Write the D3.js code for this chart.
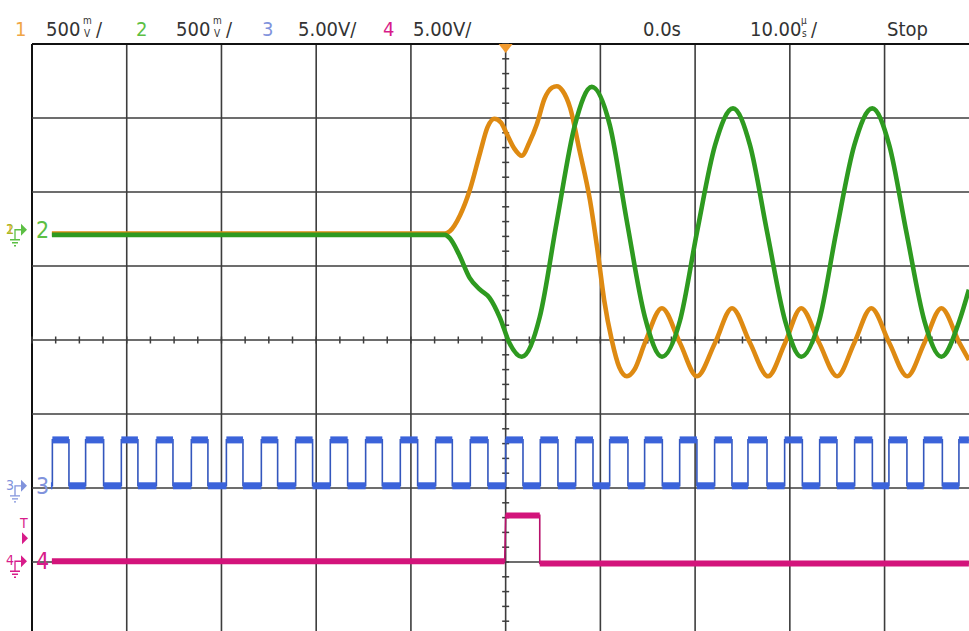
<!DOCTYPE html>
<html>
<head>
<meta charset="utf-8">
<script src="https://cdn.jsdelivr.net/npm/d3@7"></script>
<style>
  body { margin: 0; background: #fff; }
  svg { display: block; font-family: "Liberation Sans Narrow", "DejaVu Sans Condensed", "Arial Narrow", sans-serif; }
</style>
</head>
<body>
<div id="d3-container"></div>
<script>
/* CONSTANTS AND GLOBALS */
const width = 969,
  height = 631,
  grid = { left: 32, top: 44, divX: 94.73, divY: 74, nx: 10, ny: 8 };

/* DATA */
// channel settings read off the header
const channelNames = ["1", "2", "3", "4"];
const channelScales = ["500", "500", "5.00", "5.00"];
const channelUnits = ["mV", "mV", "V", "V"];
const timeOffset = "0.0s";
const timeScale = "10.00";
const timeUnit = "µs";
const runState = "Stop";

// ch1 (orange) : time in µs, value in mV
const ch1Time = [-47.9, -6.4, -5.9, -4.8, -3.8, -2.7, -1.9, -1.2, -0.5, 0.1, 0.9, 1.7, 2.5, 3.3, 4.1, 4.9, 5.4, 6.0, 6.8, 7.8,
  8.9, 9.7, 10.4, 11.2, 12.0, 12.8, 13.6, 14.7, 16.5, 18.4, 20.2, 22.1, 23.9, 25.8, 27.7, 29.5, 31.2, 33.1, 35.0, 36.8,
  38.6, 40.5, 42.4, 44.2, 46.0, 47.9, 48.9];
const ch1mV = [-25, -25, -10, 100, 265, 520, 695, 750, 725, 650, 550, 500, 590, 715, 885, 960, 970, 940, 825, 535,
  200, -140, -475, -745, -930, -990, -945, -765, -530, -765, -990, -765, -530, -765, -990, -765, -530, -765, -990, -765,
  -530, -765, -990, -765, -530, -765, -880];

// ch2 (green) : time in µs, value in mV
const ch2Time = [-47.9, -6.4, -5.9, -4.9, -3.8, -2.7, -1.7, -0.6, 0.4, 1.7, 3.6, 5.4, 7.3, 9.1, 11.0, 12.8, 14.7, 16.5,
  18.4, 20.2, 22.1, 24.0, 25.8, 27.6, 29.5, 31.2, 33.1, 34.9, 36.8, 38.7, 40.5, 42.3, 44.2, 46.0, 47.9, 48.9];
const ch2mV = [-35, -35, -57, -170, -325, -405, -460, -595, -765, -858, -590, 55, 705, 965, 705, 55, -590, -858,
  -615, -15, 570, 820, 570, -15, -615, -858, -615, -15, 570, 820, 570, -15, -615, -858, -615, -405];

// ch3 (blue) square wave : edge times in µs, levels in V
const ch3Rise = [-47.85, -44.34, -40.57, -36.87, -33.18, -29.48, -25.79, -22.17, -18.51, -14.78, -11.12, -7.39, -3.73,
  0.0, 3.66, 7.39, 10.98, 14.67, 18.37, 22.06, 25.58, 29.45, 33.15, 36.84, 40.46, 44.13, 47.85];
const ch3Fall = [-46.10, -42.44, -38.82, -35.12, -31.43, -27.73, -24.07, -20.38, -16.68, -13.02, -9.29, -5.63, -1.87,
  1.83, 5.52, 9.22, 12.91, 16.54, 20.19, 23.89, 27.59, 31.32, 34.97, 38.71, 42.36, 46.10];
const ch3High = 3.1, ch3Low = 0.0;

// ch4 (magenta) pulse : time in µs, value in V
const ch4Time = [-47.9, -0.1, 0.0, 3.6, 3.6, 48.9];
const ch4V = [0.0, 0.0, 3.1, 3.1, -0.15, -0.15];
const trigLevel = 1.55; // V on ch4

/* SCALES */
const x = d3.scaleLinear()
  .domain([-50, 50])
  .range([grid.left, grid.left + grid.divX * grid.nx]);

const yDiv = d3.scaleLinear()
  .domain([4, -4])
  .range([grid.top, grid.top + grid.divY * grid.ny]);

// per channel: volts per division + position offset in divisions
function chScale(perDiv, pos) {
  return v => yDiv(v / perDiv + pos);
}
const y12 = chScale(500, 1.49);
const y3 = chScale(5, -1.97);
const y4 = chScale(5, -2.99);

const colors = {
  ch1: "#de8a12", ch2: "#2e9a20", ch3: "#3b63da", ch4: "#d3147b",
  lab1: "#f0a646", lab2: "#5cbf44", lab3: "#8193dc", lab4: "#d81c8a"
};

/* SVG */
const svg = d3.select("#d3-container")
  .append("svg")
  .attr("width", width)
  .attr("height", height)
  .style("background", "#fff");

svg.append("clipPath").attr("id", "screen")
  .append("rect")
  .attr("x", grid.left).attr("y", grid.top)
  .attr("width", width - grid.left).attr("height", height - grid.top);

// GRATICULE
const gGrid = svg.append("g");
gGrid.selectAll("line.v")
  .data(d3.range(grid.nx + 1))
  .join("line")
  .attr("class", "v")
  .attr("x1", d => x(-50 + d * 10)).attr("x2", d => x(-50 + d * 10))
  .attr("y1", grid.top).attr("y2", height)
  .attr("stroke", d => d === 0 ? "#111" : "#3d3d3d")
  .attr("stroke-width", d => d === 0 ? 2 : 1.6);

gGrid.selectAll("line.h")
  .data(d3.range(grid.ny + 1))
  .join("line")
  .attr("class", "h")
  .attr("x1", grid.left).attr("x2", width)
  .attr("y1", d => yDiv(4 - d)).attr("y2", d => yDiv(4 - d))
  .attr("stroke", d => d === 0 ? "#111" : "#3d3d3d")
  .attr("stroke-width", d => d === 0 ? 2 : 1.6);

// minor ticks on the centre lines (4 per div across, 5 per div down)
gGrid.selectAll("line.tx")
  .data(d3.range(-50, 50.01, 2.5))
  .join("line")
  .attr("class", "tx")
  .attr("x1", d => x(d)).attr("x2", d => x(d))
  .attr("y1", yDiv(0) - 3.5).attr("y2", yDiv(0) + 3.5)
  .attr("stroke", "#3d3d3d").attr("stroke-width", 1.5);

gGrid.selectAll("line.ty")
  .data(d3.range(-4, 4.01, 0.2))
  .join("line")
  .attr("class", "ty")
  .attr("x1", x(0) - 3.5).attr("x2", x(0) + 3.5)
  .attr("y1", d => yDiv(d)).attr("y2", d => yDiv(d))
  .attr("stroke", "#3d3d3d").attr("stroke-width", 1.5);

const traces = svg.append("g").attr("clip-path", "url(#screen)");

// digital-ish traces: thin edges, thick flat levels
function drawStep(pts, yScale, color, thick) {
  const stepLine = d3.line().x(d => x(d[0])).y(d => yScale(d[1]));
  traces.append("path")
    .datum(pts)
    .attr("d", stepLine)
    .attr("fill", "none")
    .attr("stroke", d3.color(color).darker(0.4))
    .attr("stroke-width", 1.6);
  const flats = d3.pairs(pts).filter(p => p[0][1] === p[1][1]);
  traces.selectAll(null)
    .data(flats)
    .join("line")
    .attr("x1", d => x(d[0][0])).attr("x2", d => x(d[1][0]))
    .attr("y1", d => yScale(d[0][1])).attr("y2", d => yScale(d[1][1]))
    .attr("stroke", color)
    .attr("stroke-width", thick);
}

// ch3 points from the edge lists
const ch3Pts = [[-48.0, ch3Low]];
ch3Rise.forEach((r, i) => {
  ch3Pts.push([r, ch3Low], [r, ch3High]);
  if (i < ch3Fall.length) ch3Pts.push([ch3Fall[i], ch3High], [ch3Fall[i], ch3Low]);
});
ch3Pts.push([48.9, ch3High]);
drawStep(ch3Pts, y3, colors.ch3, 7);

drawStep(ch4Time.map((t, i) => [t, ch4V[i]]), y4, colors.ch4, 6);

// analog traces
const analogLine = yScale => d3.line()
  .x(d => x(d[0]))
  .y(d => yScale(d[1]))
  .curve(d3.curveMonotoneX);

traces.append("path")
  .datum(ch1Time.map((t, i) => [t, ch1mV[i]]))
  .attr("d", analogLine(y12))
  .attr("fill", "none")
  .attr("stroke", colors.ch1)
  .attr("stroke-width", 4.6);

traces.append("path")
  .datum(ch2Time.map((t, i) => [t, ch2mV[i]]))
  .attr("d", analogLine(y12))
  .attr("fill", "none")
  .attr("stroke", colors.ch2)
  .attr("stroke-width", 4.6);

// trigger position marker at top
svg.append("path")
  .attr("d", `M${x(0) - 7},${grid.top} L${x(0) + 7},${grid.top} L${x(0)},${grid.top + 9} Z`)
  .attr("fill", "#f29a2e");

/* CHANNEL MARKERS ON THE LEFT */
function groundMarker(gy, name, color, smallColor) {
  const g = svg.append("g");
  g.append("text")
    .attr("x", 6).attr("y", gy + 4)
    .attr("font-size", 14)
    .attr("fill", smallColor)
    .text(name);
  g.append("path")
    .attr("d", `M15,${gy + 10} V${gy} H21`)
    .attr("fill", "none").attr("stroke", color).attr("stroke-width", 1.3);
  g.append("path")
    .attr("d", `M10,${gy + 10} H20 M12,${gy + 13} H18 M14,${gy + 16} H16`)
    .attr("stroke", color).attr("stroke-width", 1.3);
  g.append("path")
    .attr("d", `M21,${gy - 6} L27,${gy} L21,${gy + 6} Z`)
    .attr("fill", color);
  g.append("text")
    .attr("x", 36).attr("y", gy + 8)
    .attr("font-size", 23)
    .attr("fill", color)
    .text(name);
  return g;
}

// 1 and 2 share the same ground; the small "1" sits under the "2"
svg.append("text").attr("x", 6).attr("y", y12(0) + 4).attr("font-size", 14)
  .attr("fill", colors.lab1).text(channelNames[0]);
groundMarker(y12(0), channelNames[1], colors.lab2, "#a6b820");
groundMarker(y3(0), channelNames[2], colors.lab3, colors.lab3);
groundMarker(y4(0), channelNames[3], colors.lab4, colors.lab4);

// trigger level marker
const ty = y4(trigLevel);
svg.append("text").attr("x", 20).attr("y", ty - 10).attr("font-size", 14)
  .attr("fill", colors.lab4).text("T");
svg.append("path")
  .attr("d", `M22,${ty - 6} L28,${ty} L22,${ty + 6} Z`)
  .attr("fill", colors.lab4);

/* HEADER */
const header = svg.append("g").attr("font-size", 20).attr("fill", "#333");
const baseY = 36;
const numX = [15, 136, 262, 383];
const valX = [46, 176, 298, 413];
const numColors = [colors.lab1, colors.lab2, colors.lab3, colors.lab4];

// stacked small unit glyph (prefix over unit) like the scope prints it
function stackedUnit(x0, top, bottom) {
  header.append("text").attr("x", x0).attr("y", baseY - 12)
    .attr("font-size", 10).text(top);
  header.append("text").attr("x", x0 + 1).attr("y", baseY + 1)
    .attr("font-size", 10).text(bottom);
}

channelNames.forEach((n, i) => {
  header.append("text").attr("x", numX[i]).attr("y", baseY)
    .attr("fill", numColors[i]).text(n);
  if (channelUnits[i] === "mV") {
    header.append("text").attr("x", valX[i]).attr("y", baseY).text(channelScales[i]);
    stackedUnit(valX[i] + 37, "m", "V");
    header.append("text").attr("x", valX[i] + 50).attr("y", baseY).text("/");
  } else {
    header.append("text").attr("x", valX[i]).attr("y", baseY)
      .text(channelScales[i] + channelUnits[i] + "/");
  }
});

header.append("text").attr("x", 643).attr("y", baseY).text(timeOffset);
header.append("text").attr("x", 750).attr("y", baseY).text(timeScale);
stackedUnit(801, timeUnit.charAt(0), timeUnit.charAt(1));
header.append("text").attr("x", 811).attr("y", baseY).text("/");
header.append("text").attr("x", 887).attr("y", baseY).text(runState);
</script>
</body>
</html>
